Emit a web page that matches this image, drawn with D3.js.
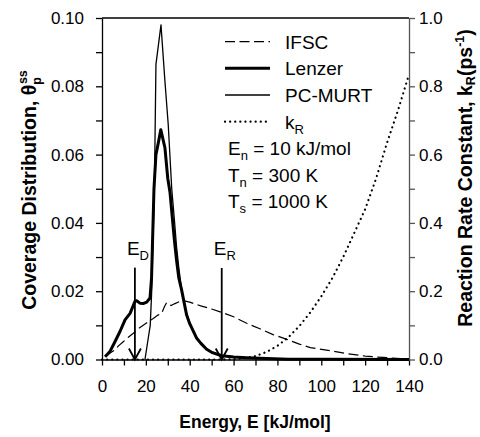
<!DOCTYPE html>
<html><head><meta charset="utf-8">
<script src="https://cdn.jsdelivr.net/npm/d3@7"></script>
<style>body{margin:0;background:#fff}svg{display:block}text{font-family:Arial,"Liberation Sans",sans-serif}</style>
</head><body><svg id="c" width="480" height="437"></svg>
<script>
const lenzerE = [1.4,3.6,5.9,8.2,10.5,12.8,15,15.8,17.3,19,20.4,21.9,22.6,23.7,24.6,25.7,26.8,28.7,30,31,32,33,34,35,36.3,38.6,40,43.2,45,47.7,50,54.6,60,66,75,85,100,140];
const lenzerV = [0.0008,0.0023,0.0052,0.0082,0.0116,0.0135,0.017,0.0172,0.0165,0.0164,0.0168,0.018,0.024,0.05,0.06,0.0635,0.0673,0.062,0.053,0.049,0.042,0.035,0.029,0.024,0.0204,0.013,0.0105,0.0062,0.0048,0.003,0.0021,0.0011,0.0007,0.0005,0.0003,0.0001,0.00005,0];
const pcmurtE = [19.6,21.1,22,22.6,23.9,24.6,26.9,28.7,30.2,31.8,33,34,35,36,37,38.6,40,43.2,45,47.7,50,54.6,60,66,75,85,100,140];
const pcmurtV = [0,0.0063,0.01,0.019,0.05,0.0864,0.098,0.0815,0.0688,0.05,0.041,0.033,0.027,0.022,0.018,0.0135,0.0108,0.0063,0.0049,0.0031,0.0022,0.0012,0.0008,0.0005,0.0003,0.0001,0.00005,0];
const ifscE = [1.7,3.5,5.9,7.5,9.7,12,14.3,16.5,18.8,21,23.4,25.5,27.2,28.5,29.5,31.5,33,35.5,38,40,45,50,54.6,60,66,72,78,83,90,95,105,112,120,128,136,140];
const ifscV = [0.001,0.0018,0.0028,0.004,0.0052,0.0065,0.0077,0.009,0.010,0.011,0.012,0.013,0.0135,0.0155,0.0167,0.0158,0.0163,0.017,0.0171,0.0168,0.0157,0.0148,0.0138,0.0125,0.0106,0.009,0.0073,0.0062,0.0045,0.0035,0.0025,0.0017,0.001,0.0006,0.0003,0.0002];
const kRE = [0,10,20,30,40,50,55,60,65,70,75,80,85,90,95,100,105,110,115,120,125,130,135,140];
const kRV = [0,0,0,0,0,0,0,0.001,0.004,0.01,0.022,0.04,0.065,0.098,0.138,0.185,0.238,0.30,0.37,0.44,0.53,0.635,0.73,0.835];
const xTicks = [0,10,20,30,40,50,60,70,80,90,100,110,120,130,140];
const yTicks = [0,0.01,0.02,0.03,0.04,0.05,0.06,0.07,0.08,0.09,0.10];
const y2Ticks = [0,0.1,0.2,0.3,0.4,0.5,0.6,0.7,0.8,0.9,1.0];
const arrowE = [15, 54.6];
const arrowTop = [0.0269, 0.0268];
const arrowSub = ["D","R"];

const svg = d3.select("#c");
const x = d3.scaleLinear().domain([0,140]).range([102,409]);
const y = d3.scaleLinear().domain([0,0.1]).range([359.5,18]);
const y2 = d3.scaleLinear().domain([0,1]).range([359.5,18]);

// top border
svg.append("line").attr("x1",x(0)).attr("x2",x(140)).attr("y1",y(0.1)).attr("y2",y(0.1)).attr("stroke","#000").attr("stroke-width",1.3);

const gx = svg.append("g").attr("transform",`translate(0,${y(0)})`)
  .call(d3.axisBottom(x).tickValues(xTicks).tickSize(6).tickSizeOuter(0).tickPadding(14)
    .tickFormat(d => d%20===0 ? d : ""));
const gy = svg.append("g").attr("transform",`translate(${x(0)},0)`)
  .call(d3.axisLeft(y).tickValues(yTicks).tickSize(6).tickSizeOuter(0).tickPadding(12)
    .tickFormat((d,i) => i%2===0 ? d3.format(".2f")(d) : ""));
const gy2 = svg.append("g").attr("transform",`translate(${x(140)},0)`)
  .call(d3.axisRight(y2).tickValues(y2Ticks).tickSize(6).tickSizeOuter(0).tickPadding(4)
    .tickFormat((d,i) => i%2===0 ? d3.format(".1f")(d) : ""));
[gx,gy].forEach(g=>{g.selectAll("path,line").attr("stroke","#000").attr("stroke-width",1.3);});
gy2.selectAll("path,line").attr("stroke","#555").attr("stroke-width",1.3);
[gx,gy,gy2].forEach(g=>{g.selectAll("text").attr("font-size",17).attr("fill","#000").attr("font-family","Arial, 'Liberation Sans', sans-serif");});

const line = (xs,ys,ys2) => d3.line().x((d,i)=>x(xs[i])).y((d,i)=>ys2(ys[i]))(xs);

const plot = svg.append("g");
plot.append("path").attr("d",line(kRE,kRV,y2)).attr("fill","none").attr("stroke","#000").attr("stroke-width",2.2).attr("stroke-linecap","round").attr("stroke-dasharray","0.1 5");
plot.append("path").attr("d",line(ifscE,ifscV,y)).attr("fill","none").attr("stroke","#000").attr("stroke-width",1.2).attr("stroke-dasharray","10 4.5");
plot.append("path").attr("d",line(pcmurtE,pcmurtV,y)).attr("fill","none").attr("stroke","#000").attr("stroke-width",1.3).attr("stroke-linejoin","round");
plot.append("path").attr("d",line(lenzerE,lenzerV,y)).attr("fill","none").attr("stroke","#000").attr("stroke-width",3).attr("stroke-linejoin","round");

// arrows
arrowE.forEach((e,i)=>{
  const ax = x(e), ay0 = y(arrowTop[i]), ay1 = y(0);
  plot.append("line").attr("x1",ax).attr("x2",ax).attr("y1",ay0).attr("y2",ay1).attr("stroke","#000").attr("stroke-width",1.8);
  plot.append("path").attr("d",`M${ax-6},${ay1-11}L${ax},${ay1}L${ax+6},${ay1-11}`).attr("fill","none").attr("stroke","#000").attr("stroke-width",1.8);
  const t = svg.append("text").attr("x",ax-8).attr("y",ay0-13).attr("font-size",19);
  t.append("tspan").text("E");
  t.append("tspan").attr("font-size",13).attr("dy",5).text(arrowSub[i]);
});

// legend
const lg = svg.append("g");
const lx1 = 225, lx2 = 270, ltx = 285;
const legendRows = [
  {y:41.7, dash:"10 4.5", w:1.2, name:"IFSC"},
  {y:68.3, dash:null, w:3, name:"Lenzer"},
  {y:95, dash:null, w:1.3, name:"PC-MURT"},
  {y:121.7, dash:"0.1 5", w:2.2, name:"k", sub:"R"}
];
legendRows.forEach(r=>{
  const l = lg.append("line").attr("x1",lx1).attr("x2",lx2).attr("y1",r.y).attr("y2",r.y).attr("stroke","#000").attr("stroke-width",r.w);
  if(r.dash){ l.attr("stroke-dasharray",r.dash); if(r.sub) l.attr("stroke-linecap","round"); }
  const t = lg.append("text").attr("x",ltx).attr("y",r.y+7).attr("font-size",19);
  t.append("tspan").text(r.name);
  if(r.sub) t.append("tspan").attr("font-size",13).attr("dy",5).text(r.sub);
});
const params = [["E","n"," = 10 kJ/mol",155],["T","n"," = 300 K",181.7],["T","s"," = 1000 K",208.3]];
params.forEach(p=>{
  const t = lg.append("text").attr("x",228).attr("y",p[3]).attr("font-size",19);
  t.append("tspan").text(p[0]);
  t.append("tspan").attr("font-size",13).attr("dy",5).text(p[1]);
  t.append("tspan").attr("dy",-5).text(p[2]);
});

// axis titles
svg.append("text").attr("x",255).attr("y",428).attr("text-anchor","middle").attr("font-size",17.5).attr("font-weight","bold").text("Energy, E [kJ/mol]");
const ty = svg.append("text").attr("transform","translate(36,190) rotate(-90)").attr("text-anchor","middle").attr("font-size",19.5).attr("font-weight","bold");
ty.append("tspan").text("Coverage Distribution, θ");
ty.append("tspan").attr("font-size",12.5).attr("dy",5).text("p");
ty.append("tspan").attr("font-size",12.5).attr("dx",-7).attr("dy",-14).text("ss");
const ty2 = svg.append("text").attr("transform","translate(472,178) rotate(-90)").attr("text-anchor","middle").attr("font-size",19.5).attr("font-weight","bold");
ty2.append("tspan").text("Reaction Rate Constant, k");
ty2.append("tspan").attr("font-size",12.5).attr("dy",3).text("R");
ty2.append("tspan").attr("dy",-3).text("(ps");
ty2.append("tspan").attr("font-size",12.5).attr("dy",-8).text("-1");
ty2.append("tspan").attr("dy",8).text(")");
</script></body></html>
